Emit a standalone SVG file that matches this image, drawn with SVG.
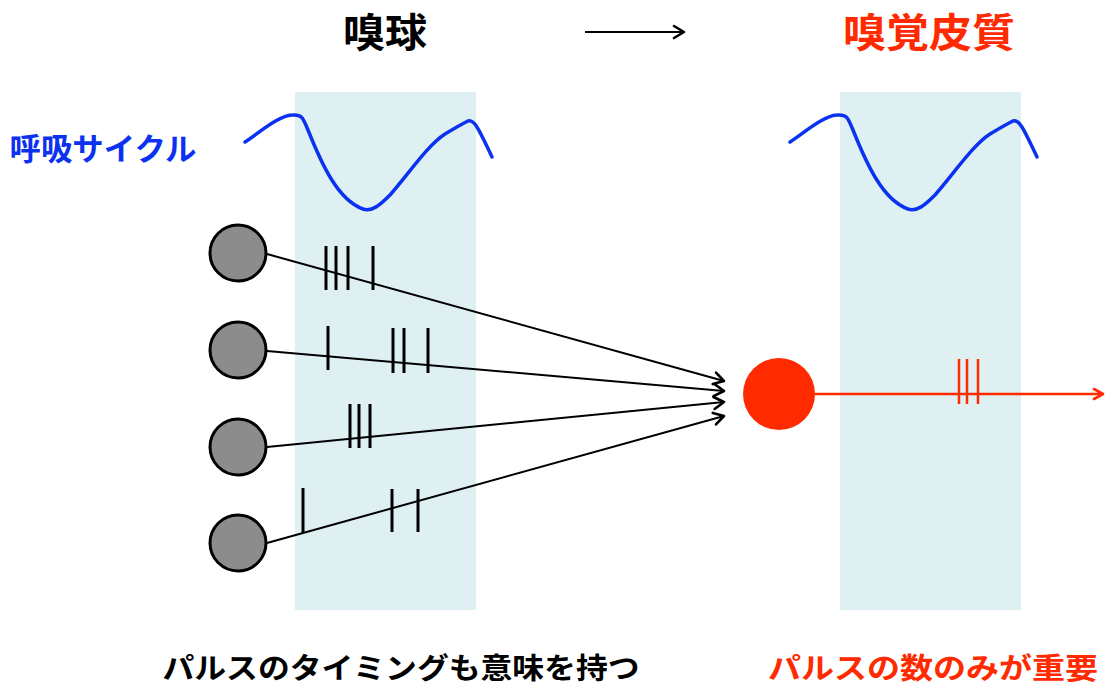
<svg xmlns="http://www.w3.org/2000/svg" xmlns:xlink="http://www.w3.org/1999/xlink" width="1106" height="688" viewBox="0 0 1106 688">
  <style>
    .jp { font-family: "Noto Sans CJK JP", "Noto Sans", sans-serif; font-weight: bold; text-anchor: middle; }
    .band { fill: #dff0f3; }
    .wave { fill: none; stroke: #0a32f0; stroke-width: 3.5; stroke-linecap: round; stroke-linejoin: round; }
    .cell { fill: #8c8c8c; stroke: #000; stroke-width: 3; }
    .axon { fill: none; stroke: #000; stroke-width: 2; marker-end: url(#chev); }
    .spike { stroke: #000; stroke-width: 3; }
    .rspike { stroke: #ff2a00; stroke-width: 2.5; }
    .raxon { fill: none; stroke: #ff2a00; stroke-width: 2.5; marker-end: url(#rchev); }
  </style>
  <defs>
    <marker id="chev" markerUnits="userSpaceOnUse" markerWidth="16" markerHeight="16" viewBox="0 0 16 16" refX="13" refY="8" orient="auto">
      <path d="M3,2 L13,8 L3,14" fill="none" stroke="#000" stroke-width="2.6" stroke-linecap="round" stroke-linejoin="round"/>
    </marker>
    <marker id="rchev" markerUnits="userSpaceOnUse" markerWidth="16" markerHeight="16" viewBox="0 0 16 16" refX="13" refY="8" orient="auto">
      <path d="M4,3 L13,8 L4,13" fill="none" stroke="#ff2a00" stroke-width="2.6" stroke-linecap="round" stroke-linejoin="round"/>
    </marker>
    <path id="breath" d="M245,142 C260,132 278,116 292,115 C302,114 303,118 308,130 C322,165 338,200 363,209 C372,212 380,205 390,195 C410,172 428,145 445,134 C455,128 462,124 468,121 C475,119 480,132 492,157"/>
  </defs>

  <!-- sniff-phase windows -->
  <rect class="band" x="295" y="92" width="181" height="518"/>
  <rect class="band" x="840" y="92" width="181" height="518"/>

  <!-- headings -->
  <g id="title-ob">
    <text class="jp" x="385" y="47" font-size="40" textLength="84" lengthAdjust="spacingAndGlyphs" fill="#000">嗅球</text>
  </g>
  <g id="title-arrow">
    <line x1="585" y1="32" x2="684" y2="32" stroke="#000" stroke-width="2" marker-end="url(#chev)"/>
  </g>
  <g id="title-cortex">
    <text class="jp" x="929" y="47" font-size="40" textLength="172" lengthAdjust="spacingAndGlyphs" fill="#ff2a00">嗅覚皮質</text>
  </g>

  <!-- respiration traces -->
  <g id="respiration">
    <text class="jp" x="103" y="160" font-size="31" textLength="187" lengthAdjust="spacingAndGlyphs" fill="#0a32f0">呼吸サイクル</text>
    <use xlink:href="#breath" class="wave"/>
    <use xlink:href="#breath" class="wave" transform="translate(545,0)"/>
  </g>

  <!-- connectors with spike trains -->
  <g id="connectors">
    <line class="axon" x1="267" y1="254" x2="724" y2="381"/>
    <line class="axon" x1="267" y1="351" x2="724" y2="391"/>
    <line class="axon" x1="267" y1="447" x2="724" y2="402"/>
    <line class="axon" x1="267" y1="543" x2="724" y2="416"/>
    <line class="raxon" x1="815" y1="394" x2="1103" y2="394"/>
  </g>

  <g id="spikes">
    <line class="spike" x1="326" y1="246" x2="326" y2="290"/>
    <line class="spike" x1="336" y1="246" x2="336" y2="290"/>
    <line class="spike" x1="348" y1="246" x2="348" y2="290"/>
    <line class="spike" x1="373" y1="246" x2="373" y2="290"/>

    <line class="spike" x1="328" y1="326" x2="328" y2="370"/>
    <line class="spike" x1="393" y1="328" x2="393" y2="373"/>
    <line class="spike" x1="404" y1="328" x2="404" y2="373"/>
    <line class="spike" x1="428" y1="328" x2="428" y2="373"/>

    <line class="spike" x1="350" y1="404" x2="350" y2="448"/>
    <line class="spike" x1="359" y1="404" x2="359" y2="448"/>
    <line class="spike" x1="370" y1="404" x2="370" y2="448"/>

    <line class="spike" x1="303" y1="488" x2="303" y2="533"/>
    <line class="spike" x1="392" y1="489" x2="392" y2="532"/>
    <line class="spike" x1="418" y1="489" x2="418" y2="532"/>

    <line class="rspike" x1="959" y1="359" x2="959" y2="404"/>
    <line class="rspike" x1="967" y1="359" x2="967" y2="404"/>
    <line class="rspike" x1="978" y1="359" x2="978" y2="404"/>
  </g>

  <!-- mitral cells -->
  <g id="cell-1"><circle class="cell" cx="238" cy="253" r="28"/></g>
  <g id="cell-2"><circle class="cell" cx="238" cy="350" r="28"/></g>
  <g id="cell-3"><circle class="cell" cx="238" cy="447" r="28"/></g>
  <g id="cell-4"><circle class="cell" cx="238" cy="543" r="28"/></g>

  <!-- cortical neuron -->
  <g id="cortex-cell"><circle cx="779" cy="394" r="36" fill="#ff2a00"/></g>

  <!-- captions -->
  <g id="caption-ob">
    <text class="jp" x="401" y="679" font-size="29" textLength="477" lengthAdjust="spacingAndGlyphs" fill="#000">パルスのタイミングも意味を持つ</text>
  </g>
  <g id="caption-cortex">
    <text class="jp" x="933" y="679" font-size="29" textLength="330" lengthAdjust="spacingAndGlyphs" fill="#ff2a00">パルスの数のみが重要</text>
  </g>
</svg>
